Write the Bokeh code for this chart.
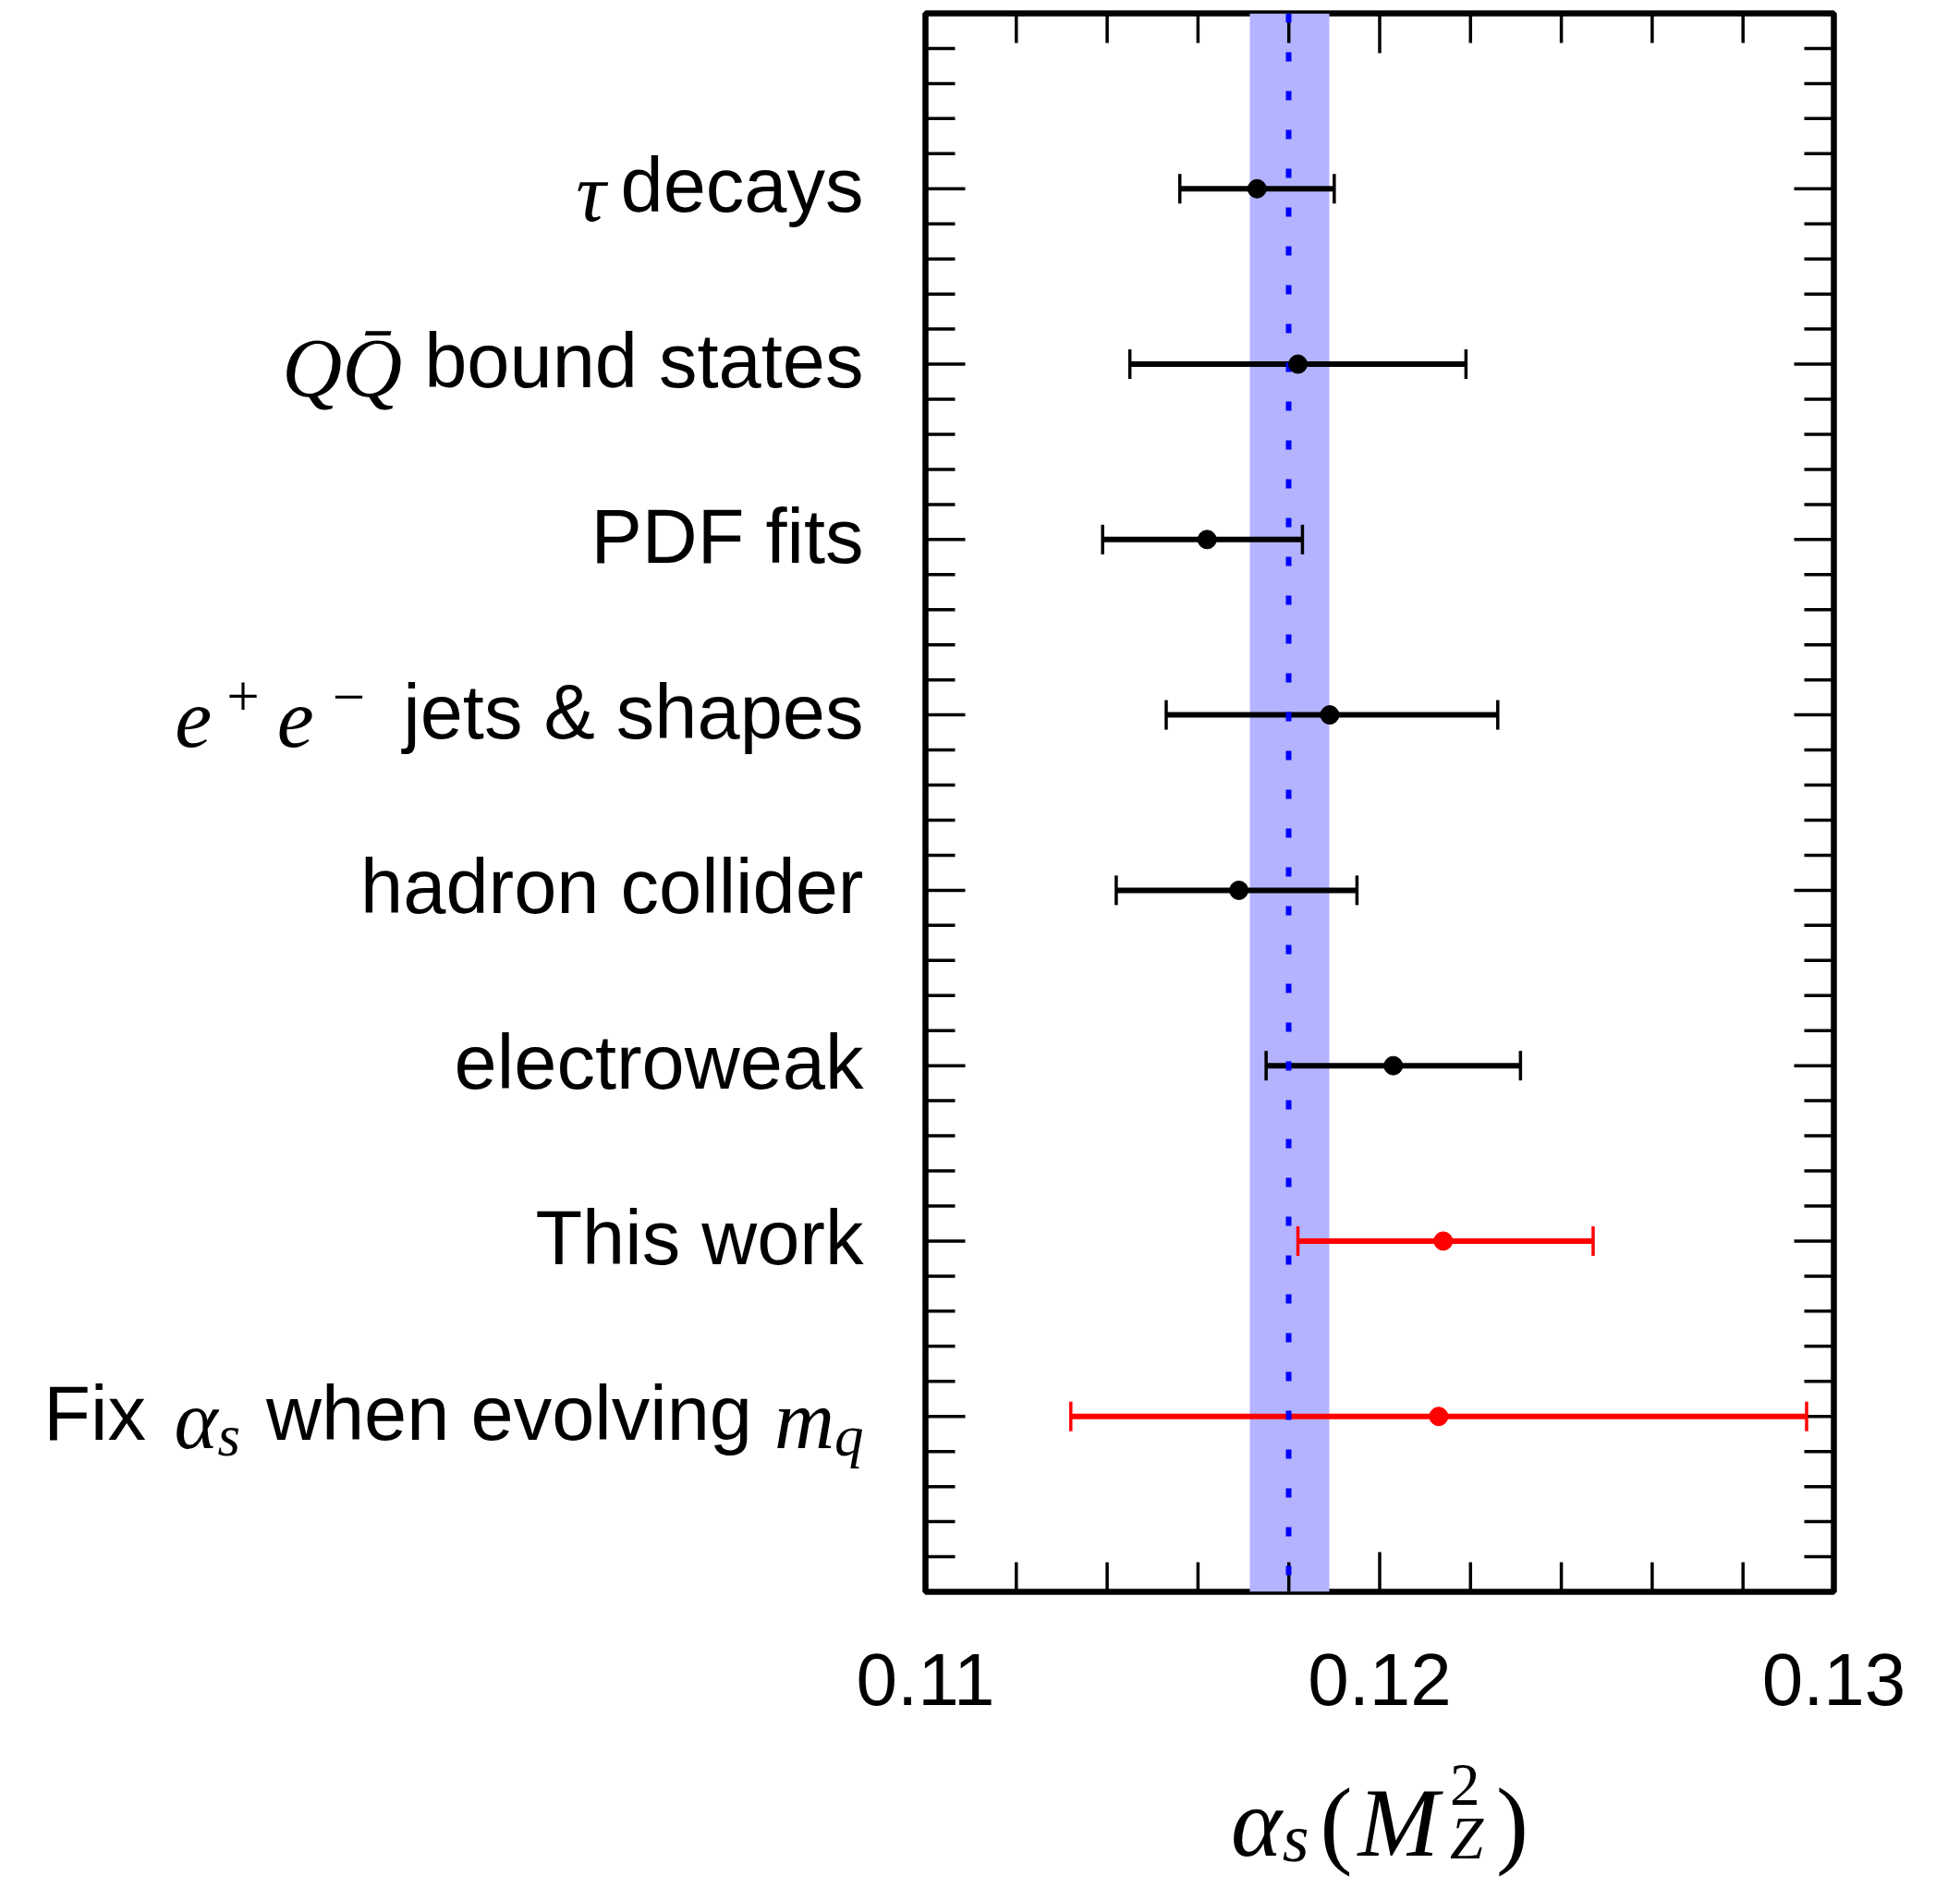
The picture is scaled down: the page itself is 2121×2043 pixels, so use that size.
import math
import unicodedata
import numpy as np
from bokeh.plotting import figure
from bokeh.models import Range1d, FixedTicker, ColumnDataSource
from bokeh.layouts import row, column
from bokeh.core.properties import value
from bokeh.embed import file_html
from bokeh.resources import INLINE

# ---------------- data ----------------
categories = ["τ decays", "QQ̄ bound states", "PDF fits", "e⁺e⁻ jets & shapes",
              "hadron collider", "electroweak", "This work", "Fix αs when evolving mq"]
central = [0.1173, 0.1182, 0.1162, 0.1189, 0.1169, 0.1203, 0.1214, 0.1213]
lower = [0.1156, 0.1145, 0.1139, 0.1153, 0.1142, 0.1175, 0.1182, 0.1132]
upper = [0.1190, 0.1219, 0.1183, 0.1226, 0.1195, 0.1231, 0.1247, 0.1294]
world_average = 0.1180
world_average_low = 0.11714
world_average_high = 0.11890
x_ticks = [0.11, 0.12, 0.13]
x_tick_labels = ["0.11", "0.12", "0.13"]
highlighted = ["This work", "Fix αs when evolving mq"]

# ---------------- geometry / style ----------------
X_START, X_END = 0.11, 0.13
n = len(categories)
Y_TOP, Y_BOTTOM = 0, n + 1
LABEL_W = 993                      # width of the label panel left of the plot
FRAME_W, FRAME_H = 983, 1708
M_LEFT, M_TOP, M_RIGHT, M_BOTTOM = 8, 14, 110, 4
TOTAL_W = LABEL_W + M_LEFT + FRAME_W + M_RIGHT
TTL_TOP, TTL_FRAME_H = 150, 160    # bottom panel: tick labels above, title frame below
PX_X = FRAME_W / (X_END - X_START)
PX_Y = FRAME_H / (Y_BOTTOM - Y_TOP)
MAJOR_LEN, MINOR_LEN = 43, 32
TICK_W = 3.5

SANS_FONT = "Liberation Sans"
SERIF_FONT = "Liberation Serif"

rows = list(range(1, n + 1))
colors = ["#ff0000" if c in highlighted else "#000000" for c in categories]
src = ColumnDataSource(dict(row=rows, central=central, lower=lower, upper=upper, color=colors))

x_range = Range1d(X_START, X_END)
y_range = Range1d(Y_BOTTOM, Y_TOP)

# ---------------- main plot ----------------
p = figure(frame_width=FRAME_W, frame_height=FRAME_H,
           x_range=x_range, y_range=y_range,
           x_axis_location=None, y_axis_location=None,
           output_backend="svg", toolbar_location=None,
           min_border_left=M_LEFT, min_border_right=M_RIGHT,
           min_border_top=M_TOP, min_border_bottom=M_BOTTOM,
           background_fill_color="white", border_fill_color="white")
p.outline_line_color = "black"
p.outline_line_width = 6.5
p.xgrid.visible = False
p.ygrid.visible = False

x_minor = [round(v, 4) for v in np.arange(X_START, X_END + 1e-9, 0.002) if round(v, 4) not in x_ticks]
y_major = list(range(Y_TOP, Y_BOTTOM + 1))
y_minor = [round(v, 2) for v in np.arange(Y_TOP, Y_BOTTOM + 1e-9, 0.2) if abs(v - round(v)) > 1e-6]

# world average band
p.vstrip(x0=[world_average_low], x1=[world_average_high], fill_color="#b3b3ff", fill_alpha=1.0, line_color=None)


# inward ticks on all four sides
def tick_segments(pos, length, side):
    k = len(pos)
    if side in ("left", "right"):
        d = length / PX_X
        x0 = X_START if side == "left" else X_END
        x1 = x0 + d if side == "left" else x0 - d
        return dict(x0=[x0] * k, x1=[x1] * k, y0=list(pos), y1=list(pos))
    d = length / PX_Y
    y0 = Y_TOP if side == "top" else Y_BOTTOM
    y1 = y0 + d if side == "top" else y0 - d
    return dict(x0=list(pos), x1=list(pos), y0=[y0] * k, y1=[y1] * k)


for side in ("left", "right"):
    p.segment(**tick_segments(y_major, MAJOR_LEN, side), line_color="black", line_width=TICK_W)
    p.segment(**tick_segments(y_minor, MINOR_LEN, side), line_color="black", line_width=TICK_W)
for side in ("top", "bottom"):
    p.segment(**tick_segments(x_ticks, MAJOR_LEN, side), line_color="black", line_width=TICK_W)
    p.segment(**tick_segments(x_minor, MINOR_LEN, side), line_color="black", line_width=TICK_W)

# error bars
p.segment(x0="lower", x1="upper", y0="row", y1="row", line_color="color", line_width=6, source=src)
p.scatter(x="lower", y="row", marker="dash", angle=math.pi / 2, size=32, line_color="color", line_width=3.5, source=src)
p.scatter(x="upper", y="row", marker="dash", angle=math.pi / 2, size=32, line_color="color", line_width=3.5, source=src)

p.vspan(x=[world_average], line_color="#0000ff", line_width=6, line_dash="10 32")

p.scatter(x="central", y="row", marker="circle", size=20, fill_color="color", line_color="color", source=src)

# ---------------- rich text helpers ----------------
SANS_W = {' ': 278, '&': 667, 'D': 722, 'F': 611, 'P': 667, 'T': 611, 'a': 556, 'b': 556, 'c': 500,
          'd': 556, 'e': 556, 'g': 556, 'h': 556, 'i': 222, 'j': 222, 'k': 500, 'l': 222, 'n': 556,
          'o': 556, 'p': 556, 'r': 333, 's': 500, 't': 278, 'u': 556, 'v': 500, 'w': 722, 'x': 500,
          'y': 500}
MATH_W = {'e': 444, 'm': 722, 'q': 500, 's': 389, 'Q': 722, 'M': 833, 'Z': 556, 'τ': 440, 'α': 530}
RM_W = {'(': 333, ')': 333, '+': 564, '−': 564, '2': 500}
SANS, MATH, RM = "sans", "math", "rm"
# vertical correction (fraction of font size) so that the glyph baseline lands where wanted
BASE_SHIFT = {SANS: 0.33, MATH: 0.22, RM: 0.22}


def text_width(text, kind, size):
    table = {SANS: SANS_W, MATH: MATH_W, RM: RM_W}[kind]
    return sum(table.get(ch, 500) for ch in text if not unicodedata.combining(ch)) * size / 1000.0


def new_pieces():
    return dict(x=[], y=[], text=[], font=[], style=[], size=[], align=[])


def add_piece(store, text, kind, size, x, y, align):
    store["x"].append(x)
    store["y"].append(y)
    store["text"].append(text)
    store["font"].append(SANS_FONT if kind == SANS else SERIF_FONT)
    store["style"].append("italic" if kind == MATH else "normal")
    store["size"].append(f"{size}px")
    store["align"].append(align)


def draw_pieces(fig, store):
    fig.text(x="x", y="y", text="text", text_font="font", text_font_style="style",
             text_font_size="size", text_align="align", text_baseline=value("alphabetic"),
             text_color="black", source=ColumnDataSource(store))


# ---------------- category label panel ----------------
lab = figure(frame_width=LABEL_W, frame_height=FRAME_H,
             x_range=Range1d(0, LABEL_W), y_range=y_range,
             x_axis_location=None, y_axis_location=None,
             output_backend="svg", toolbar_location=None,
             min_border_left=0, min_border_right=0,
             min_border_top=M_TOP, min_border_bottom=M_BOTTOM,
             background_fill_color="white", border_fill_color="white")
lab.outline_line_color = None
lab.xgrid.visible = False
lab.ygrid.visible = False

S_TXT, M_TXT, M_SCR = 83, 90, 63
rich = {
    "τ decays": [("τ", MATH, M_TXT, 0, 16), ("decays", SANS, S_TXT, 0, 0)],
    "QQ̄ bound states": [("QQ\u0304", MATH, M_TXT, 0, 24), ("bound states", SANS, S_TXT, 0, 0)],
    "e⁺e⁻ jets & shapes": [("e", MATH, M_TXT, 0, 16), ("+", RM, M_SCR, -30, 19), ("e", MATH, M_TXT, 0, 20),
                           ("−", RM, M_SCR, -30, 41), ("jets & shapes", SANS, S_TXT, 0, 0)],
    "Fix αs when evolving mq": [("Fix", SANS, S_TXT, 0, 30), ("α", MATH, M_TXT, 0, 0), ("s", MATH, M_SCR, 11, 28),
                                ("when evolving", SANS, S_TXT, 0, 24), ("m", MATH, M_TXT, 0, 0),
                                ("q", MATH, M_SCR, 11, 0)],
}
LABEL_RIGHT = 934        # right edge of category labels (panel pixels)
BASELINE_PX = 24         # baseline below row centre

cat_pieces = new_pieces()
for cat, r in zip(categories, rows):
    pieces = rich.get(cat, [(cat, SANS, S_TXT, 0, 0)])
    x_right = LABEL_RIGHT
    for text, kind, size, dy, pad in reversed(pieces):
        x_right -= pad
        y_px = BASELINE_PX + dy - BASE_SHIFT[kind] * size
        add_piece(cat_pieces, text, kind, size, x_right, r + y_px / PX_Y, "right")
        x_right -= text_width(text, kind, size)
draw_pieces(lab, cat_pieces)

# ---------------- bottom panel: tick labels + axis title ----------------
ttl = figure(frame_width=FRAME_W, frame_height=TTL_FRAME_H,
             x_range=x_range, y_range=Range1d(TTL_FRAME_H, 0),
             x_axis_location="above", y_axis_location=None,
             output_backend="svg", toolbar_location=None,
             min_border_left=LABEL_W + M_LEFT, min_border_right=M_RIGHT,
             min_border_top=TTL_TOP, min_border_bottom=0,
             background_fill_color="white", border_fill_color="white")
ttl.outline_line_color = None
ttl.xgrid.visible = False
ttl.ygrid.visible = False
ax = ttl.xaxis[0]
ax.ticker = FixedTicker(ticks=x_ticks, minor_ticks=[])
ax.major_label_overrides = {t: s for t, s in zip(x_ticks, x_tick_labels)}
ax.axis_line_color = None
ax.major_tick_line_color = None
ax.minor_tick_line_color = None
ax.major_tick_in = 0
ax.major_tick_out = 0
ax.minor_tick_in = 0
ax.minor_tick_out = 0
ax.major_label_text_font = SANS_FONT
ax.major_label_text_font_size = "80px"
ax.major_label_text_color = "black"
ax.major_label_standoff = 32

title = [
    ([("α", MATH, 105, 0)], 0),
    ([("s", MATH, 74, 10)], 12),
    ([("(", RM, 105, 0)], 6),
    ([("M", MATH, 105, 0)], 12),
    ([("2", RM, 65, -50), ("Z", MATH, 65, 8)], 14),
    ([(")", RM, 105, 0)], 0),
]
TITLE_BASELINE = 119     # within the bottom frame, pixels from its top
title_center = (X_START + X_END) / 2
widths = [max(text_width(t, k, s) for t, k, s, _ in grp) for grp, _ in title]
total = sum(widths) + sum(pad for _, pad in title)
x_px = -total / 2
title_pieces = new_pieces()
for (grp, pad), w in zip(title, widths):
    for t, k, s, dy in grp:
        add_piece(title_pieces, t, k, s, title_center + x_px / PX_X,
                  TITLE_BASELINE + dy - BASE_SHIFT[k] * s, "left")
    x_px += w + pad
draw_pieces(ttl, title_pieces)

layout = column(row(lab, p, spacing=0), ttl, spacing=0)
open("out.html", "w").write(file_html(layout, INLINE))
